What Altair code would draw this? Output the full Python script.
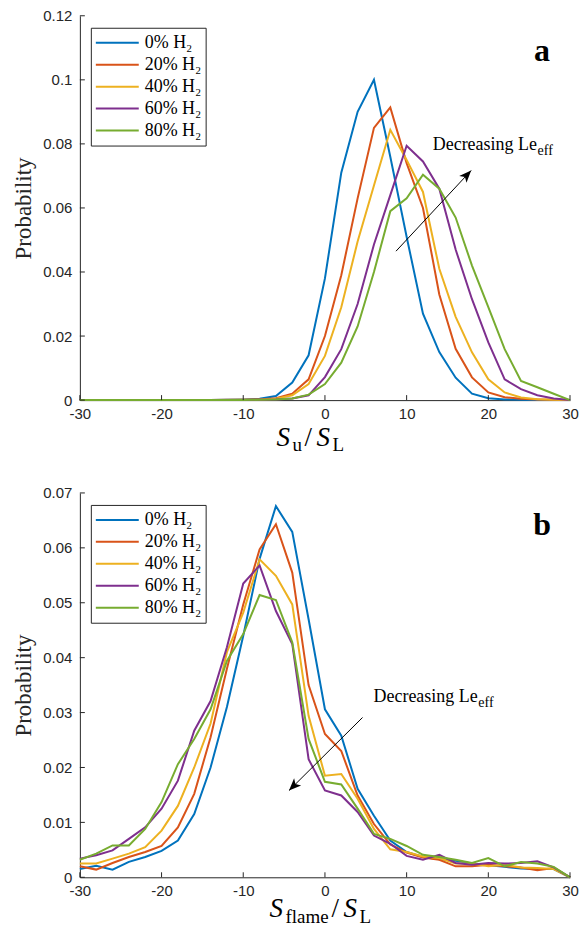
import altair as alt
import pandas as pd

# ---------------- data ----------------
X = list(range(-30, 31, 2))
SERIES = ["0% H₂", "20% H₂", "40% H₂", "60% H₂", "80% H₂"]
COLORS = ["#0072BD", "#D95319", "#EDB120", "#7E2F8E", "#77AC30"]

Z9 = [0] * 9
a_0 = Z9 + [0.0001, 0.0002, 0.0004, 0.0013, 0.0055, 0.014, 0.038, 0.071, 0.090, 0.100, 0.076,
            0.051, 0.027, 0.015, 0.007, 0.002, 0.0006, 0.0002, 0.0001, 0, 0, 0]
a_20 = Z9 + [0.0001, 0.0001, 0.0002, 0.0006, 0.002, 0.0065, 0.020, 0.039, 0.063, 0.085, 0.0914,
             0.074, 0.060, 0.033, 0.016, 0.0071, 0.0024, 0.0009, 0.0004, 0.0002, 0.0001, 0]
a_40 = Z9 + [0, 0.0001, 0.0001, 0.0004, 0.0015, 0.005, 0.0138, 0.029, 0.0495, 0.067, 0.0844,
             0.075, 0.065, 0.041, 0.026, 0.0149, 0.0065, 0.0024, 0.0008, 0.0003, 0.0001, 0]
a_60 = Z9 + [0, 0, 0.0001, 0.0002, 0.0005, 0.0015, 0.0072, 0.0159, 0.030, 0.0486, 0.064,
             0.0794, 0.0745, 0.066, 0.047, 0.0315, 0.018, 0.0065, 0.0034, 0.0015, 0.0005, 0]
a_80 = Z9 + [0, 0, 0.0001, 0.0002, 0.0005, 0.0017, 0.005, 0.0117, 0.023, 0.040, 0.059,
             0.063, 0.0704, 0.066, 0.057, 0.042, 0.029, 0.0159, 0.006, 0.004, 0.002, 0]

b_0 = [0.0015, 0.0021, 0.0014, 0.0028, 0.0037, 0.0048, 0.0067, 0.0115, 0.020, 0.031, 0.044,
       0.058, 0.0676, 0.0629, 0.047, 0.0306, 0.0258, 0.0161, 0.0112, 0.0067, 0.0046, 0.0037,
       0.0033, 0.003, 0.0025, 0.0022, 0.0019, 0.0016, 0.0015, 0.0015, 0]
b_20 = [0.002, 0.0014, 0.0026, 0.0037, 0.0046, 0.0057, 0.0091, 0.0152, 0.0255, 0.038, 0.0497,
        0.0597, 0.0643, 0.0555, 0.035, 0.0261, 0.023, 0.0149, 0.0097, 0.006, 0.0045, 0.0036,
        0.0032, 0.002, 0.002, 0.0023, 0.002, 0.0018, 0.0013, 0.0017, 0]
b_40 = [0.0025, 0.0025, 0.0034, 0.0043, 0.0055, 0.0085, 0.013, 0.020, 0.028, 0.041, 0.0482,
        0.0579, 0.0549, 0.0497, 0.0294, 0.0185, 0.0188, 0.0143, 0.0088, 0.0051, 0.0046, 0.0038,
        0.0035, 0.0025, 0.0025, 0.002, 0.0023, 0.0018, 0.0017, 0.0015, 0]
b_60 = [0.0034, 0.004, 0.0049, 0.007, 0.0091, 0.0125, 0.0176, 0.0267, 0.0321, 0.0419, 0.0535,
        0.0568, 0.0485, 0.0425, 0.0215, 0.0158, 0.0149, 0.0119, 0.0076, 0.0061, 0.0039, 0.0032,
        0.0041, 0.0026, 0.0023, 0.0026, 0.0025, 0.0026, 0.0029, 0.0018, 0]
b_80 = [0.0032, 0.0043, 0.0058, 0.0058, 0.0088, 0.0137, 0.0206, 0.0252, 0.0306, 0.0394, 0.0443,
        0.0514, 0.0505, 0.0428, 0.0252, 0.0174, 0.0169, 0.0125, 0.0079, 0.007, 0.0057, 0.0041,
        0.0037, 0.0032, 0.0026, 0.0035, 0.002, 0.0028, 0.0025, 0.0019, 0]

X_TICKS = [-30, -20, -10, 0, 10, 20, 30]
A_YTICKS = [0, 0.02, 0.04, 0.06, 0.08, 0.1, 0.12]
B_YTICKS = [0, 0.01, 0.02, 0.03, 0.04, 0.05, 0.06, 0.07]

# annotation anchors (data units)
A_ARROW_X = [8.7, 17.9]
A_ARROW_Y = [0.0465, 0.0717]
B_ARROW_X = [4.6, -4.4]
B_ARROW_Y = [0.0291, 0.0158]
A_NOTE = (13.2, 0.0782)
B_NOTE = (5.95, 0.0319)

SERIF = "Liberation Serif"
SANS = "Liberation Sans"
AXC = "#262626"
W, H = 491, 385
ARROW_PATH = "M0,0 L0.55,1.35 L0,1.0 L-0.55,1.35 Z"


def long_df(cols):
    rows = []
    for name, vals in zip(SERIES, cols):
        for i, (x, v) in enumerate(zip(X, vals)):
            rows.append({"x": x, "p": v, "series": name, "i": i})
    return pd.DataFrame(rows)


def piece(s, x, y, size, style="normal", weight="normal", align="left"):
    return alt.Chart(pd.DataFrame({"t": [s]})).mark_text(
        text=s, font=SERIF, fontSize=size, fontStyle=style, fontWeight=weight,
        align=align, baseline="alphabetic", color="black"
    ).encode(x=alt.value(x), y=alt.value(y))


def panel(cols, ymax, yticks, arrow_x, arrow_y, angle, note, letter, letter_y, title_pieces):
    xs = alt.Scale(domain=[-30, 30], nice=False, zero=False)
    ys = alt.Scale(domain=[0, ymax], nice=False)
    xax = alt.Axis(values=X_TICKS, labelExpr="'' + datum.value", labelFlush=False,
                   labelPadding=6)
    yax = alt.Axis(values=yticks, labelExpr="'' + datum.value", labelFlush=False,
                   labelPadding=8, titlePadding=7)

    def XE():
        return alt.X("x:Q", scale=xs, axis=xax, title=None)

    def YE():
        return alt.Y("p:Q", scale=ys, axis=yax, title="Probability")

    df = long_df(cols)
    lines = alt.Chart(df).mark_line(strokeWidth=2).encode(
        x=XE(), y=YE(),
        color=alt.Color("series:N", scale=alt.Scale(domain=SERIES, range=COLORS),
                        legend=alt.Legend(title=None, orient="none", legendX=11, legendY=12,
                                          symbolType="stroke", symbolSize=1849,
                                          symbolStrokeWidth=2, clipHeight=22,
                                          labelFont=SERIF, labelFontSize=18, labelColor="black",
                                          labelOffset=5, padding=4, rowPadding=0,
                                          strokeColor=AXC, fillColor="white", cornerRadius=0)),
        order="i:Q",
    )
    xt = alt.Chart(pd.DataFrame({"x": X_TICKS})).mark_rule(color=AXC, strokeWidth=1).encode(
        x=XE(), y=alt.value(H), y2=alt.value(H - 5))
    yt = alt.Chart(pd.DataFrame({"p": yticks})).mark_rule(color=AXC, strokeWidth=1).encode(
        y=YE(), x=alt.value(0), x2=alt.value(5))
    adf = pd.DataFrame({"x": arrow_x, "p": arrow_y})
    aline = alt.Chart(adf).mark_line(color="black", strokeWidth=1).encode(x=XE(), y=YE())
    ahead = alt.Chart(adf.iloc[[1]]).mark_point(
        shape=ARROW_PATH, size=330, filled=True, color="black", opacity=1, angle=angle
    ).encode(x=XE(), y=YE())
    ndf = pd.DataFrame({"x": [note[0]], "p": [note[1]]})
    note1 = alt.Chart(ndf).mark_text(text="Decreasing Le", font=SERIF, fontSize=18,
                                     align="left", baseline="alphabetic", color="black").encode(
        x=XE(), y=YE())
    note2 = alt.Chart(ndf).mark_text(text="eff", font=SERIF, fontSize=14, dx=105, dy=5,
                                     align="left", baseline="alphabetic", color="black").encode(
        x=XE(), y=YE())
    let = piece(letter, 463, letter_y, 32, weight="bold", align="center")
    layers = [lines, xt, yt, aline, ahead, note1, note2, let] + [
        piece(*tp) for tp in title_pieces]
    return alt.layer(*layers).properties(width=W, height=H)


A_TITLE = [("S", 197, 431, 27, "italic"), ("u", 213, 436, 19), ("/", 225, 431, 27),
           ("S", 237, 431, 27, "italic"), ("L", 253, 436, 19)]
B_TITLE = [("S", 190, 425, 27, "italic"), ("flame", 206, 431, 19), ("/", 252, 425, 27),
           ("S", 264, 425, 27, "italic"), ("L", 280, 431, 19)]

pa = panel([a_0, a_20, a_40, a_60, a_80], 0.12, A_YTICKS, A_ARROW_X, A_ARROW_Y, 43,
           A_NOTE, "a", 45, A_TITLE)
pb = panel([b_0, b_20, b_40, b_60, b_80], 0.07, B_YTICKS, B_ARROW_X, B_ARROW_Y, 225,
           B_NOTE, "b", 42, B_TITLE)

chart = alt.vconcat(pa, pb, spacing=93, bounds="flush").resolve_scale(
    color="independent"
).configure_view(stroke=None).configure_axis(
    grid=False, ticks=False, tickSize=0, domainColor=AXC, domainWidth=1,
    labelFont=SANS, labelFontSize=15, labelColor=AXC,
    titleFont=SERIF, titleFontSize=23, titleFontWeight="normal", titleColor=AXC,
).properties(padding={"left": 12, "top": 8, "right": 0, "bottom": 0}, background="white")

chart.save("out.html", embed_options={"renderer": "svg", "actions": False})
